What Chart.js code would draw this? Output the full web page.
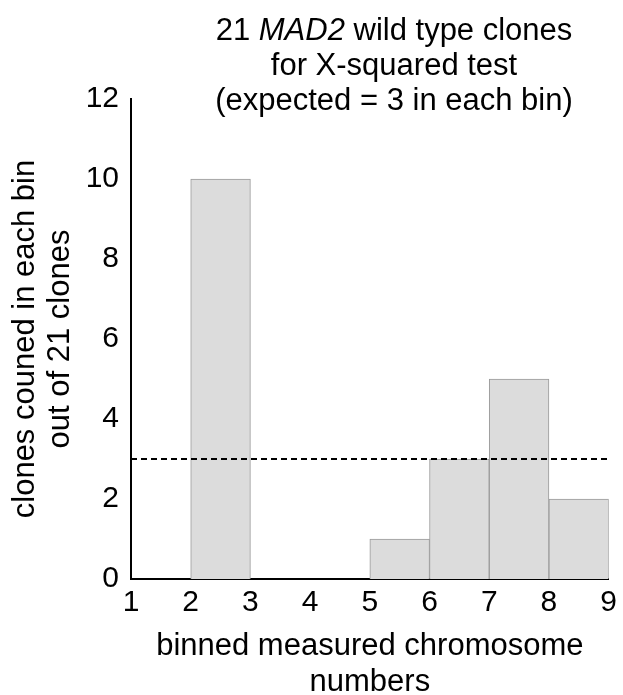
<!DOCTYPE html>
<html>
<head>
<meta charset="utf-8">
<script src="https://cdn.jsdelivr.net/npm/chart.js@4/dist/chart.umd.min.js"></script>
<style>
  html, body { margin: 0; padding: 0; background: #fff; }
  #wrap { width: 623px; height: 695px; position: relative; }
</style>
</head>
<body>
<div id="wrap"><canvas id="histo"></canvas></div>
<script>
// bins of measured chromosome number (bin centers) and clone counts
const binCenters = [1.5, 2.5, 3.5, 4.5, 5.5, 6.5, 7.5, 8.5];
const cloneCounts = [0, 10, 0, 0, 1, 3, 5, 2];
const expectedX = [1, 9];
const expectedCount = 3;
const xTicks = [1, 2, 3, 4, 5, 6, 7, 8, 9];
const yTicks = [0, 2, 4, 6, 8, 10, 12];

const FONT = "'Liberation Sans', Arial, Helvetica, sans-serif";

// title with italic gene name
const titleLines = [
    [{ t: "21 ", it: false }, { t: "MAD2", it: true }, { t: " wild type clones", it: false }],
    [{ t: "for X-squared test", it: false }],
    [{ t: "(expected = 3 in each bin)", it: false }]
];

const titlePlugin = {
    id: "mixedTitle",
    afterDraw(chart) {
        const ctx = chart.ctx;
        const cx = 394;
        const baselines = [40, 75, 110];
        ctx.save();
        ctx.fillStyle = "#000";
        ctx.textBaseline = "alphabetic";
        ctx.textAlign = "left";
        titleLines.forEach((segs, li) => {
            let total = 0;
            segs.forEach(s => {
                ctx.font = (s.it ? "italic " : "") + "31px " + FONT;
                total += ctx.measureText(s.t).width;
            });
            let x = cx - total / 2;
            segs.forEach(s => {
                ctx.font = (s.it ? "italic " : "") + "31px " + FONT;
                ctx.fillText(s.t, x, baselines[li]);
                x += ctx.measureText(s.t).width;
            });
        });
        ctx.restore();
    }
};

const ctx = document.getElementById("histo").getContext("2d");
new Chart(ctx, {
    type: "bar",
    data: {
        datasets: [
            {
                type: "line",
                data: expectedX.map(x => ({ x: x, y: expectedCount })),
                borderColor: "#000",
                borderWidth: 2,
                borderDash: [6, 4],
                pointRadius: 0,
                fill: false,
                order: 0
            },
            {
                type: "bar",
                data: binCenters.map((x, i) => ({ x: x, y: cloneCounts[i] })),
                backgroundColor: "#dcdcdc",
                borderColor: "#9a9a9a",
                borderWidth: 1,
                borderSkipped: "bottom",
                barPercentage: 1,
                categoryPercentage: 1,
                order: 1
            }
        ]
    },
    options: {
        responsive: true,
        maintainAspectRatio: false,
        animation: false,
        layout: { padding: { top: 99, right: 10, left: 0, bottom: 0 } },
        plugins: {
            legend: { display: false },
            tooltip: { enabled: false },
            title: { display: false }
        },
        scales: {
            x: {
                type: "linear",
                min: 1,
                max: 9,
                offset: false,
                grid: { display: false, drawTicks: false, offset: false },
                border: { display: true, color: "#000", width: 2 },
                afterBuildTicks: s => { s.ticks = xTicks.map(v => ({ value: v })); },
                afterFit: s => { s.height = 116; },
                ticks: {
                    color: "#000",
                    padding: 6,
                    maxRotation: 0,
                    font: { family: FONT, size: 30 }
                },
                title: {
                    display: true,
                    text: ["binned measured chromosome", "numbers"],
                    color: "#000",
                    font: { family: FONT, size: 31, lineHeight: 1.16 },
                    padding: { top: 0, bottom: -5 }
                }
            },
            y: {
                min: 0,
                max: 12,
                grid: { display: false, drawTicks: false },
                border: { display: true, color: "#000", width: 2 },
                afterBuildTicks: s => { s.ticks = yTicks.map(v => ({ value: v })); },
                afterFit: s => { s.width = 131; },
                ticks: {
                    color: "#000",
                    padding: 12,
                    font: { family: FONT, size: 30 }
                },
                title: {
                    display: true,
                    text: ["clones couned in each bin", "out of 21 clones"],
                    color: "#000",
                    font: { family: FONT, size: 31, lineHeight: 1.13 },
                    padding: { top: 8, bottom: 0 }
                }
            }
        }
    },
    plugins: [titlePlugin]
});
</script>
</body>
</html>
